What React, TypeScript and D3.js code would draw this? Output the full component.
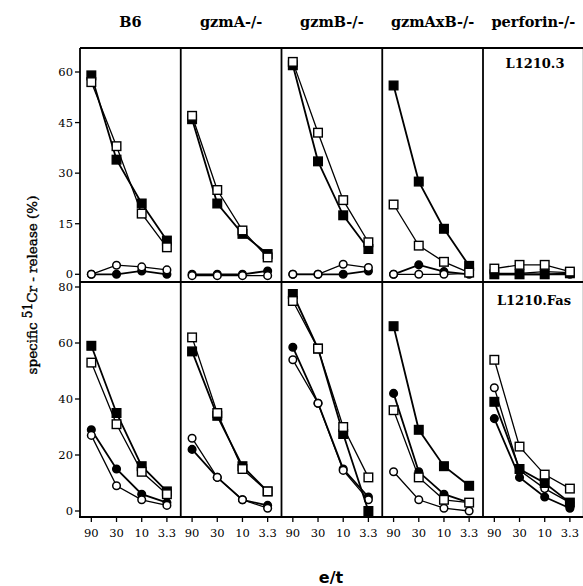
import React from "react";
import * as d3 from "d3";

const etLabels = ["90", "30", "10", "3.3"];
const strains = ["B6", "gzmA-/-", "gzmB-/-", "gzmAxB-/-", "perforin-/-"];
const topTicks = [0, 15, 30, 45, 60];
const bottomTicks = [0, 20, 40, 60, 80];

// L1210.3 targets, one row per strain
const l12103FilledSquare = [
  [59, 34, 21, 10],
  [46, 21, 12, 6],
  [62, 33.5, 17.5, 7.5],
  [56, 27.5, 13.5, 2.5],
  [0, 0, 0, 0.3],
];
const l12103OpenSquare = [
  [57, 38, 18, 8],
  [47, 25, 13, 5],
  [63, 42, 22, 9.5],
  [20.7, 8.5, 3.7, 0.5],
  [1.7, 2.8, 2.8, 0.8],
];
const l12103FilledCircle = [
  [0, 0, 1, 0],
  [0, 0, 0, 1],
  [0, 0, 0, 1],
  [0, 2.8, 0.8, 0],
  [0, 0, 0, 0],
];
const l12103OpenCircle = [
  [0, 2.7, 2.2, 1.3],
  [-0.4, -0.4, -0.4, -0.4],
  [0, 0, 3, 2],
  [0, 0, 0, 0.3],
  [0.3, 0.3, 0.8, 0.5],
];

// L1210.Fas targets
const fasFilledSquare = [
  [59, 35, 16, 7],
  [57, 34, 16, 7],
  [77.5, 58, 27.5, 0],
  [66, 29, 16, 9],
  [39, 15, 10, 3],
];
const fasOpenSquare = [
  [53, 31, 14, 6],
  [62, 35, 15, 7],
  [75, 58, 30, 12],
  [36, 12, 4, 3],
  [54, 23, 13, 8],
];
const fasFilledCircle = [
  [29, 15, 6, 3],
  [22, 12, 4, 2],
  [58.5, 38.5, 15, 5],
  [42, 14, 6, 3],
  [33, 12, 5, 1],
];
const fasOpenCircle = [
  [27, 9, 4, 2],
  [26, 12, 4, 1],
  [54, 38.5, 14.5, 4],
  [14, 4, 1, 0],
  [44, 14.5, 8, 3],
];

const serif = "'DejaVu Serif', 'Liberation Serif', serif";

const left = 80;
const panelW = 100.75;
const frameTop = 48;
const frameMid = 282;
const frameBottom = 517;
const frameStroke = 1.8;

type Shape = "square" | "circle";

function Series({
  values,
  x,
  y,
  shape,
  filled,
}: {
  values: number[];
  x: d3.ScalePoint<string>;
  y: d3.ScaleLinear<number, number>;
  shape: Shape;
  filled: boolean;
}) {
  const line = d3
    .line<number>()
    .x((_, i) => x(etLabels[i]) ?? 0)
    .y((d) => y(d));
  const fill = filled ? "#000" : "#fff";
  return (
    <g>
      <path
        d={line(values) ?? ""}
        fill="none"
        stroke="#000"
        strokeWidth={filled ? 1.8 : 1.3}
      />
      {values.map((v, i) => {
        const cx = x(etLabels[i]) ?? 0;
        const cy = y(v);
        return shape === "square" ? (
          <rect
            key={i}
            x={cx - 4.3}
            y={cy - 4.3}
            width={8.6}
            height={8.6}
            fill={fill}
            stroke="#000"
            strokeWidth={1.4}
          />
        ) : (
          <circle
            key={i}
            cx={cx}
            cy={cy}
            r={3.8}
            fill={fill}
            stroke="#000"
            strokeWidth={1.5}
          />
        );
      })}
    </g>
  );
}

export default function App() {
  const yTop = d3.scaleLinear().domain([0, 60]).range([274.3, 72]);
  const yBot = d3.scaleLinear().domain([0, 80]).range([511, 287]);
  const right = left + panelW * strains.length;

  return (
    <svg
      width={583}
      height={586}
      style={{ position: "absolute", left: 0, top: 0, background: "#fff" }}
    >
      {strains.map((name, s) => {
        const x0 = left + s * panelW;
        const x = d3
          .scalePoint<string>()
          .domain(etLabels)
          .range([x0, x0 + panelW])
          .padding(0.5)
          .align(0.45);
        return (
          <g key={name}>
            <text
              x={x0 + panelW / 2}
              y={27}
              textAnchor="middle"
              fontFamily={serif}
              fontWeight="bold"
              fontSize={14.5}
            >
              {name}
            </text>
            <Series values={l12103FilledCircle[s]} x={x} y={yTop} shape="circle" filled />
            <Series values={l12103OpenCircle[s]} x={x} y={yTop} shape="circle" filled={false} />
            <Series values={l12103FilledSquare[s]} x={x} y={yTop} shape="square" filled />
            <Series values={l12103OpenSquare[s]} x={x} y={yTop} shape="square" filled={false} />
            <Series values={fasFilledCircle[s]} x={x} y={yBot} shape="circle" filled />
            <Series values={fasOpenCircle[s]} x={x} y={yBot} shape="circle" filled={false} />
            <Series values={fasFilledSquare[s]} x={x} y={yBot} shape="square" filled />
            <Series values={fasOpenSquare[s]} x={x} y={yBot} shape="square" filled={false} />
            {etLabels.map((l) => (
              <g key={l}>
                <line
                  x1={x(l)}
                  x2={x(l)}
                  y1={frameBottom}
                  y2={frameBottom + 5}
                  stroke="#000"
                  strokeWidth={1.3}
                />
                <text
                  x={x(l)}
                  y={537}
                  textAnchor="middle"
                  fontFamily={serif}
                  fontSize={11.5}
                >
                  {l}
                </text>
              </g>
            ))}
            <line
              x1={x0}
              x2={x0}
              y1={frameTop}
              y2={frameBottom}
              stroke="#000"
              strokeWidth={frameStroke}
            />
          </g>
        );
      })}
      <line x1={right} x2={right} y1={frameTop} y2={frameBottom} stroke="#000" strokeWidth={frameStroke} />
      <line x1={left} x2={right} y1={frameTop} y2={frameTop} stroke="#000" strokeWidth={frameStroke} />
      <line x1={left} x2={right} y1={frameMid} y2={frameMid} stroke="#000" strokeWidth={frameStroke} />
      <line x1={left - 1} x2={right} y1={frameBottom} y2={frameBottom} stroke="#000" strokeWidth={frameStroke} />

      {topTicks.map((t) => (
        <g key={"t" + t}>
          <line x1={left - 5} x2={left} y1={yTop(t)} y2={yTop(t)} stroke="#000" strokeWidth={1.3} />
          <text
            x={left - 7}
            y={yTop(t)}
            dy="0.35em"
            textAnchor="end"
            fontFamily={serif}
            fontSize={11.5}
          >
            {t}
          </text>
        </g>
      ))}
      {bottomTicks.map((t) => (
        <g key={"b" + t}>
          <line x1={left - 5} x2={left} y1={yBot(t)} y2={yBot(t)} stroke="#000" strokeWidth={1.3} />
          <text
            x={left - 7}
            y={yBot(t)}
            dy="0.35em"
            textAnchor="end"
            fontFamily={serif}
            fontSize={11.5}
          >
            {t}
          </text>
        </g>
      ))}

      <text
        x={535}
        y={68}
        textAnchor="middle"
        fontFamily={serif}
        fontWeight="bold"
        fontSize={13}
      >
        L1210.3
      </text>
      <text
        x={534}
        y={305}
        textAnchor="middle"
        fontFamily={serif}
        fontWeight="bold"
        fontSize={13}
      >
        L1210.Fas
      </text>

      <text
        transform="translate(37,285) rotate(-90)"
        textAnchor="middle"
        fontFamily={serif}
        fontSize={13.5}
        stroke="#000"
        strokeWidth={0.4}
      >
        specific{" "}
        <tspan fontSize={12} dy={-5}>
          51
        </tspan>
        <tspan dy={5}>Cr - release (%)</tspan>
      </text>

      <text
        x={331}
        y={583}
        textAnchor="middle"
        fontFamily="'DejaVu Sans', Arial, sans-serif"
        fontWeight="bold"
        fontSize={16}
      >
        e/t
      </text>
    </svg>
  );
}
